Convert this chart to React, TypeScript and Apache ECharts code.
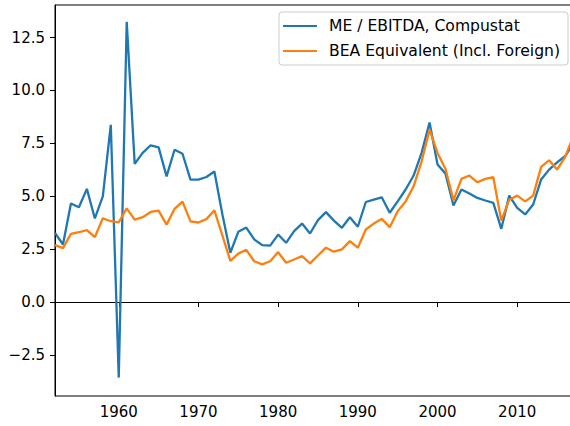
import React, { useEffect, useRef } from "react";
import * as echarts from "echarts";

const firstYear = 1952;
const meEbitda = [
  3.27, 2.72, 4.66, 4.48, 5.35, 3.95, 5.0, 8.38, -3.57, 13.24,
  6.53, 7.05, 7.41, 7.31, 5.94, 7.2, 7.01, 5.79, 5.79, 5.91,
  6.17, 4.15, 2.33, 3.32, 3.52, 2.96, 2.69, 2.67, 3.19, 2.8,
  3.35, 3.71, 3.24, 3.87, 4.25, 3.85, 3.51, 4.01, 3.56, 4.73,
  4.84, 4.95, 4.22, 4.76, 5.32, 5.98, 7.05, 8.49, 6.5, 6.07,
  4.56, 5.32, 5.13, 4.92, 4.8, 4.69, 3.46, 5.03, 4.45, 4.14,
  4.61, 5.79, 6.26, 6.6, 6.89, 7.48,
];
const beaEquivalent = [
  2.69, 2.55, 3.22, 3.3, 3.4, 3.07, 3.96, 3.82, 3.77, 4.43,
  3.9, 4.01, 4.26, 4.32, 3.66, 4.4, 4.75, 3.81, 3.76, 3.92,
  4.34, 3.15, 1.95, 2.29, 2.47, 1.93, 1.78, 1.93, 2.36, 1.86,
  2.01, 2.17, 1.83, 2.2, 2.57, 2.38, 2.49, 2.88, 2.57, 3.43,
  3.71, 3.93, 3.54, 4.29, 4.76, 5.47, 6.65, 8.15, 7.05, 6.29,
  4.81, 5.82, 5.98, 5.66, 5.82, 5.9, 3.85, 4.84, 5.03, 4.76,
  5.03, 6.39, 6.7, 6.26, 6.85, 7.8,
];
const years = meEbitda.map((_, i) => firstYear + i);
const xTicks = [1960, 1970, 1980, 1990, 2000, 2010];
const yTicks = [-2.5, 0, 2.5, 5, 7.5, 10, 12.5];
const seriesNames = ["ME / EBITDA, Compustat", "BEA Equivalent (Incl. Foreign)"];

export default function App() {
  const ref = useRef<HTMLDivElement>(null);
  useEffect(() => {
    if (!ref.current) return;
    const chart = echarts.init(ref.current, null, { renderer: "svg" });
    const font = "DejaVu Sans";
    const fs = 15;
    chart.setOption({
      animation: false,
      backgroundColor: "#fff",
      grid: {
        left: 55,
        top: 5,
        width: 518,
        height: 391,
        show: true,
        borderColor: "#000",
        borderWidth: 1,
        containLabel: false,
        outerBoundsMode: "none",
      },
      legend: {
        show: true,
        orient: "vertical",
        left: 279,
        top: 12,
        padding: [6, 8, 6, 4],
        itemWidth: 34,
        itemHeight: 14,
        itemGap: 9,
        backgroundColor: "rgba(255,255,255,0.8)",
        borderColor: "#cccccc",
        borderWidth: 1,
        borderRadius: 3,
        textStyle: { fontFamily: font, fontSize: 15.6, color: "#000", padding: [0, 0, 0, 7] },
        data: seriesNames.map((n) => ({ name: n, icon: "path://M0,0 L34,0 L34,2.2 L0,2.2 Z" })),
      },
      xAxis: {
        type: "value",
        min: firstYear,
        max: 2017,
        splitLine: { show: false },
        axisLine: { show: true, lineStyle: { color: "#000", width: 1 } },
        axisTick: { show: true, length: 5, customValues: xTicks, lineStyle: { color: "#000" } },
        axisLabel: {
          customValues: xTicks,
          margin: 8,
          fontFamily: font,
          fontSize: fs,
          color: "#000",
          formatter: (v: number) => String(v),
        },
      },
      yAxis: {
        type: "value",
        min: -4.44,
        max: 14.04,
        splitLine: { show: false },
        axisLine: { show: true, lineStyle: { color: "#000", width: 1 } },
        axisTick: { show: true, length: 5, customValues: yTicks, lineStyle: { color: "#000" } },
        axisLabel: {
          customValues: yTicks,
          margin: 10,
          fontFamily: font,
          fontSize: fs,
          color: "#000",
          formatter: (v: number) => (v < 0 ? "\u2212" + Math.abs(v).toFixed(1) : v.toFixed(1)),
        },
      },
      series: [
        {
          name: seriesNames[0],
          type: "line",
          data: years.map((y, i) => [y, meEbitda[i]]),
          showSymbol: false,
          symbol: "none",
          color: "#1f77b4",
          lineStyle: { color: "#1f77b4", width: 2.3 },
          z: 2,
        },
        {
          name: seriesNames[1],
          type: "line",
          data: years.map((y, i) => [y, beaEquivalent[i]]),
          showSymbol: false,
          symbol: "none",
          color: "#ff7f0e",
          lineStyle: { color: "#ff7f0e", width: 2.3 },
          z: 3,
        },
      ],
    });
    return () => chart.dispose();
  }, []);
  return (
    <div
      ref={ref}
      style={{ position: "fixed", left: 0, top: 0, width: 570, height: 426 }}
    />
  );
}
